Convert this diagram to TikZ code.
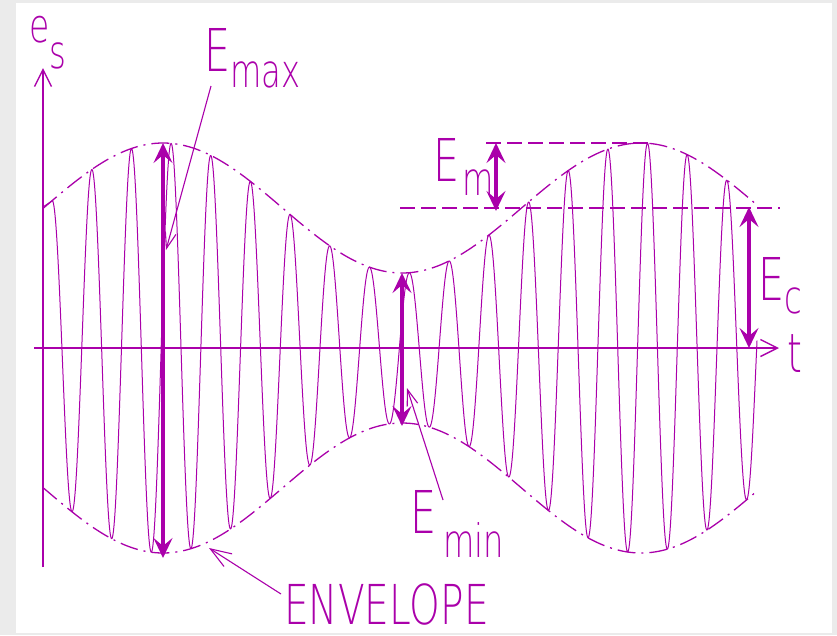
\documentclass[tikz,border=0pt]{standalone}
\usepackage{fontspec}
\usepackage{graphicx}
\usetikzlibrary{arrows.meta}
\IfFontExistsTF{DejaVu Sans ExtraLight}{\newfontfamily\labfont{DejaVu Sans ExtraLight}}{\newfontfamily\labfont{DejaVu Sans}}
\definecolor{mag}{RGB}{170,0,170}
\newcommand\bigf{\labfont\fontsize{59}{59}\selectfont}
\newcommand\subf{\labfont\fontsize{46}{46}\selectfont}
\begin{document}
\begin{tikzpicture}[x=1pt,y=-1pt,
  axisline/.style={draw=mag,line width=1.6pt,-{Straight Barb[length=17pt,width=17pt,line width=1.4pt]}},
  wave/.style={draw=mag,line width=1pt,line join=round},
  envl/.style={draw=mag,line width=1.3pt,dash pattern=on 18pt off 6pt on 2pt off 6pt},
  dashline/.style={draw=mag,line width=1.3pt,dash pattern=on 15pt off 6pt},
  bigarrow/.style={draw=mag,line width=4pt,{Stealth[length=20pt,width=19pt,inset=8pt]}-{Stealth[length=20pt,width=19pt,inset=8pt]}},
  leader/.style={draw=mag,line width=1.1pt,-{Straight Barb[length=16pt,width=11pt,line width=1.1pt]}},
  lab/.style={anchor=base west,inner sep=0pt,text=mag,font=\bigf}]
\useasboundingbox (0,0) rectangle (837,635);
\fill[gray!16] (0,0) rectangle (837,635);
\fill[white] (16,3) rectangle (832,633);
% axes
\coordinate (yb) at (43,567); \coordinate (yt) at (43,68);
\coordinate (xl) at (34,348); \coordinate (xr) at (779,348);
\draw[axisline] (yb) -- (yt);
\draw[axisline] (xl) -- (xr);
% carrier
\draw[wave] (43,207) -- (52,201) -- plot[domain=52:757,samples=1411] (\x,{348-(140+65*cos(0.7531*(\x-163)))*cos(9.068*(\x-52))});
% envelopes
\draw[envl] plot[domain=43:757,samples=240] (\x,{348-(140+65*cos(0.7531*(\x-163)))});
\draw[envl] plot[domain=43:757,samples=240] (\x,{348+(140+65*cos(0.7531*(\x-163)))});
% reference lines
\coordinate (emt) at (486,143); \coordinate (pk) at (648,143);
\coordinate (ecl) at (400,208); \coordinate (ecr) at (780,208);
\draw[dashline] (emt) -- (pk);
\draw[dashline] (ecl) -- (ecr);
% amplitude arrows
\coordinate (maxt) at (163,143); \coordinate (maxb) at (163,558);
\coordinate (mint) at (402,273); \coordinate (minb) at (402,426);
\coordinate (emu) at (496,143); \coordinate (emd) at (496,211);
\coordinate (ecu) at (749,207); \coordinate (ecd) at (749,348);
\draw[bigarrow] (maxt) -- (maxb);
\draw[bigarrow] (mint) -- (minb);
\draw[bigarrow] (emu) -- (emd);
\draw[bigarrow] (ecu) -- (ecd);
% labels
\node[lab] (es) at (29,42) {\scalebox{0.7}[1]{{\fontsize{47}{47}\selectfont e}\raisebox{-26pt}{\subf s}}};
\node[lab] (t) at (787,372) {\scalebox{0.7}[1]{\fontsize{54}{54}\selectfont t}};
\node[lab] (emax) at (204,71) {\scalebox{0.7}[1]{E\raisebox{-16pt}{\subf max}}};
\node[lab] (em) at (433,181) {\scalebox{0.7}[1]{E\hspace{5pt}\raisebox{-14pt}{\subf m}}};
\node[lab] (ec) at (758,300) {\scalebox{0.7}[1]{E\raisebox{-13pt}{\subf c}}};
\node[lab] (emin) at (410,533) {\scalebox{0.7}[1]{E\hspace{10pt}\raisebox{-24pt}{\subf min}}};
\node[lab,font=\labfont\fontsize{55}{55}\selectfont] (env) at (284,624) {\scalebox{0.71}[1]{ENVELOPE}};
% leaders
\coordinate (l1s) at (211,86); \coordinate (l1e) at (166,250);
\coordinate (l2s) at (443,500); \coordinate (l2e) at (407,388);
\coordinate (l3s) at (281,594); \coordinate (l3e) at (209,548);
\draw[leader] (l1s) -- (l1e);
\draw[leader] (l2s) -- (l2e);
\draw[leader,-{Straight Barb[length=21pt,width=15pt,line width=1.1pt]}] (l3s) -- (l3e);
\end{tikzpicture}
\end{document}
